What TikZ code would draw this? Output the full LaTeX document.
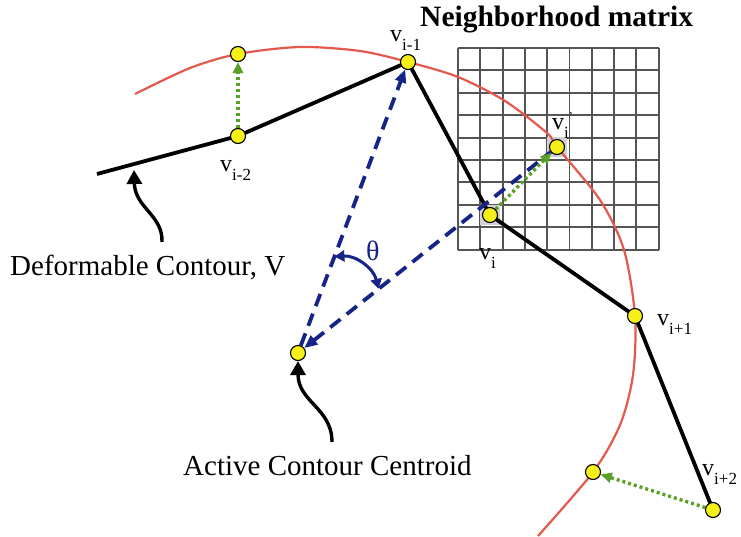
\documentclass[tikz,border=0pt]{standalone}
\usepackage{fontspec}
\setmainfont{Liberation Serif}
\usetikzlibrary{arrows.meta}
\definecolor{redc}{RGB}{228,88,78}
\definecolor{bluec}{RGB}{22,35,135}
\definecolor{greenc}{RGB}{88,160,38}
\definecolor{gridc}{RGB}{85,85,85}
\definecolor{yel}{RGB}{246,240,24}
\pgfdeclarelayer{bg}
\pgfsetlayers{bg,main}
\newcommand\vlab[1]{v\raisebox{-9pt}{\fontsize{17}{17}\selectfont #1}}
\begin{document}
\begin{tikzpicture}[x=1pt,y=-1pt,
 pt/.style={circle,draw=black,line width=1.1pt,fill=yel,minimum size=15pt,inner sep=0pt},
 contour/.style={line width=3.8pt,black},
 circ/.style={redc,line width=2.2pt},
 ray/.style={bluec,line width=3.8pt,dash pattern=on 13pt off 8pt},
 bluetip/.style={-{Triangle[length=13pt,width=11pt]}},
 move/.style={greenc,line width=3.4pt,dash pattern=on 3pt off 3pt,-{Triangle[length=11pt,width=10pt]}},
 gridline/.style={gridc,line width=1.9pt},
 lab/.style={anchor=base west,inner sep=0pt,font=\fontsize{24}{24}\selectfont},
 big/.style={anchor=base west,inner sep=0pt,font=\fontsize{29}{29}\selectfont},
 pointer/.style={line width=3.4pt,-{Triangle[length=14pt,width=15pt]}}]
\useasboundingbox (0,0) rectangle (741,537);

% points
\node[pt] (vm2) at (238,136) {};
\node[pt] (vm2n) at (238,54) {};
\node[pt] (vm1) at (408,62) {};
\node[pt] (vi) at (490,215) {};
\node[pt] (vin) at (557,147) {};
\node[pt] (vp1) at (635,316) {};
\node[pt] (vp2) at (713,510) {};
\node[pt] (vp2n) at (593,472) {};
\node[pt] (cen) at (298,353) {};
\coordinate (start) at (97,174);

\begin{pgfonlayer}{bg}
\fill[white] (0,0) rectangle (741,537);
% neighborhood grid
\foreach \k in {0,...,9} {
  \draw[gridline] (458+\k*22.3,48) -- (458+\k*22.3,249.6);
  \draw[gridline] (458,48+\k*22.4) -- (658.7,48+\k*22.4);
}
\fill[gray!35] (vi.center) ++(-10,-10) rectangle ++(20,20);
\fill[gray!35] (vin.center) ++(-10,-10) rectangle ++(20,20);
% red target curve
\draw[circ] plot[smooth] coordinates {(135,94) (190,68) (238,54) (300,47) (360,51) (408,62) (458,77) (505,101) (547,133) (557,147) (600,200) (624,250) (635,316) (633,375) (620,425) (593,472) (538,536)};
% deformable contour
\draw[contour] (start) -- (vm2.center) -- (vm1.center) -- (vi.center) -- (vp1.center) -- (vp2.center);
% centroid rays
\draw[ray,bluetip] (cen) -- (vm1);
\draw[ray,{Triangle[length=13pt,width=11pt]}-] (cen) -- (vin);
\draw[bluec,line width=3pt,{Triangle[length=10pt,width=11pt]}-{Triangle[length=10pt,width=11pt]}] (334.4,256.6) to[bend left=40] (378.6,288.9);
% moves
\draw[move] (vm2) -- (vm2n);
\draw[move] (vi) -- (vin);
\draw[move] (vp2) -- (vp2n);
\end{pgfonlayer}

% pointers
\coordinate (tip1) at (134,170);
\draw[pointer] (162,242) .. controls (163,215) and (135,208) .. (tip1);
\draw[pointer] (332,442) .. controls (332,408) and (298,402) .. (cen);

% labels
\node[lab] (lm1) at (390,42) {\vlab{i-1}};
\node[lab] (lm2) at (220,172) {\vlab{i-2}};
\node[lab] (li) at (479,260) {\vlab{i}};
\node[lab] (lin) at (552,130) {v\raisebox{-9pt}{\fontsize{17}{17}\selectfont i}\raisebox{9pt}{\fontsize{12}{12}\selectfont '}};
\node[lab] (lp1) at (657,325) {\vlab{i+1}};
\node[lab] (lp2) at (702,475) {\vlab{i+2}};
\node[anchor=base west,inner sep=0pt,text=bluec,font=\fontsize{28}{28}\selectfont] (th) at (366,261) {θ};
\node[big] (tdef) at (10,275) {Deformable Contour, V};
\node[big] (tcen) at (183,475) {Active Contour Centroid};
\node[anchor=base west,inner sep=0pt,font=\bfseries\fontsize{29.5}{29.5}\selectfont] (tnb) at (420,27) {Neighborhood matrix};
\end{tikzpicture}
\end{document}
